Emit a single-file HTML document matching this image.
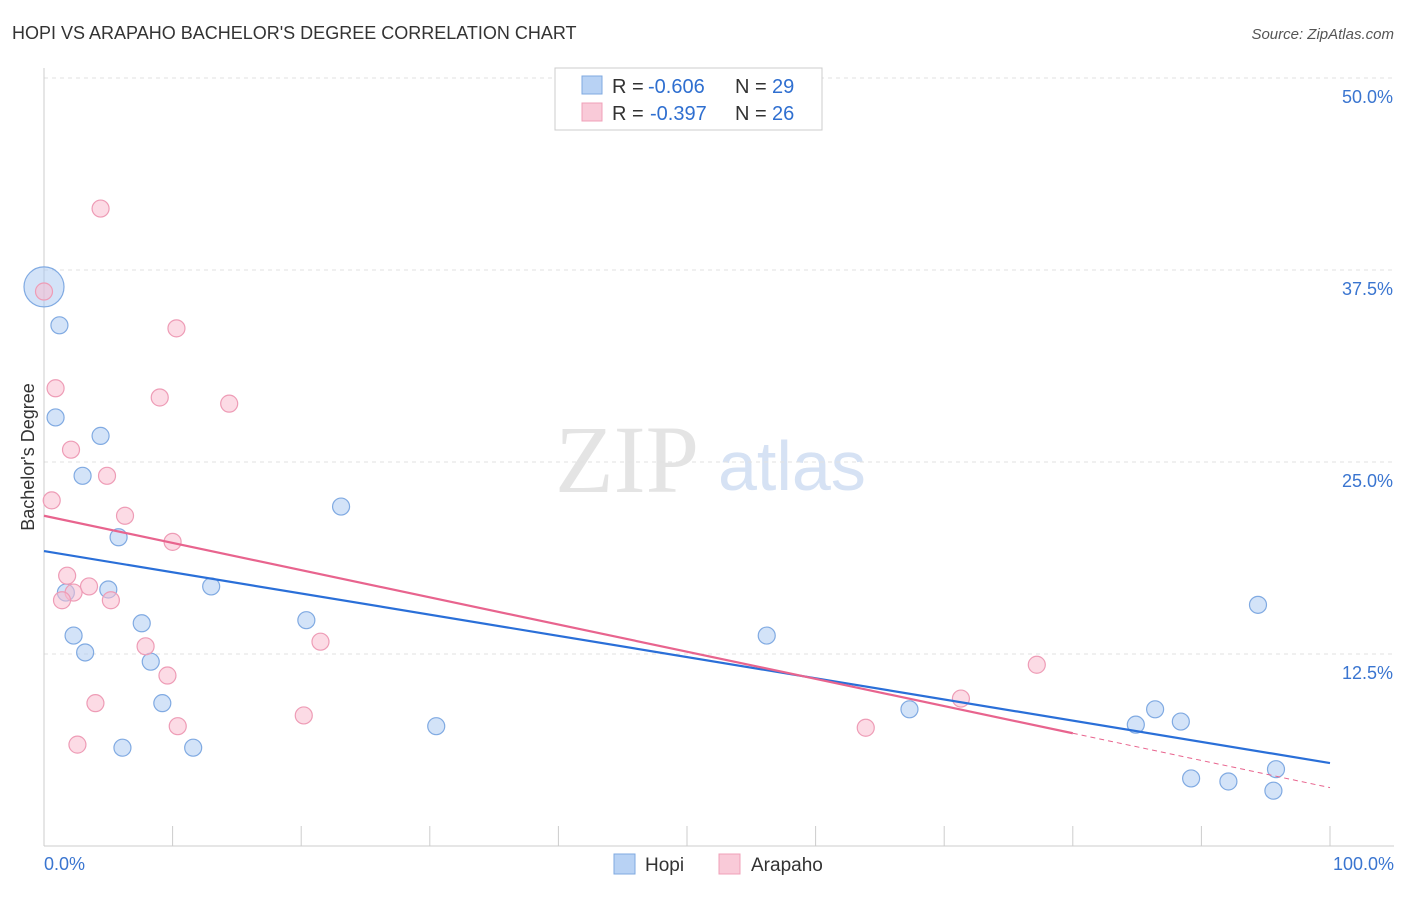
<!DOCTYPE html>
<html><head><meta charset="utf-8"><style>
body{margin:0;background:#fff;font-family:"Liberation Sans",sans-serif}
</style></head><body>
<svg id="c" width="1406" height="892" xmlns="http://www.w3.org/2000/svg">
<text x="12" y="39" font-size="18" fill="#333">HOPI VS ARAPAHO BACHELOR'S DEGREE CORRELATION CHART</text>
<text x="1394" y="39" font-size="15" fill="#555" font-style="italic" text-anchor="end">Source: ZipAtlas.com</text>
<text x="555" y="492" font-size="96" fill="#e4e4e4" font-family="Liberation Serif,serif">ZIP</text>
<text x="718" y="490" font-size="70" fill="#d6e2f4">atlas</text>
<text transform="translate(34,457) rotate(-90)" font-size="18" fill="#333" text-anchor="middle">Bachelor's Degree</text>
<g id="grid"></g><g id="marks"></g>
<g>
<rect x="555" y="68" width="267" height="62" fill="#fff" stroke="#ccc"/>
<rect x="582" y="76" width="20" height="18" fill="#b8d2f4" stroke="#7fa9e0"/>
<rect x="582" y="103" width="20" height="18" fill="#f9cad8" stroke="#f0a0b8"/>
<text x="612" y="93" font-size="20" fill="#333">R =</text>
<text x="648" y="93" font-size="20" fill="#2f6fd0">-0.606</text>
<text x="735" y="93" font-size="20" fill="#333">N =</text>
<text x="772" y="93" font-size="20" fill="#2f6fd0">29</text>
<text x="612" y="120" font-size="20" fill="#333">R =</text>
<text x="650" y="120" font-size="20" fill="#2f6fd0">-0.397</text>
<text x="735" y="120" font-size="20" fill="#333">N =</text>
<text x="772" y="120" font-size="20" fill="#2f6fd0">26</text>
</g>
<g>
<rect x="614" y="854" width="21" height="20" fill="#b8d2f4" stroke="#7fa9e0"/>
<text x="645" y="871" font-size="19" fill="#333">Hopi</text>
<rect x="719" y="854" width="21" height="20" fill="#f9cad8" stroke="#f0a0b8"/>
<text x="751" y="871" font-size="19" fill="#333">Arapaho</text>
</g>
</svg>
<script>
const hopiX=[0,1.2,0.9,4.4,3.0,5.8,5.0,1.7,13.0,2.3,7.6,3.2,8.3,9.2,6.1,11.6,23.1,20.4,30.5,56.2,67.3,94.4,84.9,86.4,88.4,89.2,92.1,95.8,95.6];
const hopiY=[36.4,33.9,27.9,26.7,24.1,20.1,16.7,16.5,16.9,13.7,14.5,12.6,12.0,9.3,6.4,6.4,22.1,14.7,7.8,13.7,8.9,15.7,7.9,8.9,8.1,4.4,4.2,5.0,3.6];
const araX=[4.4,0,10.3,0.9,9.0,14.4,2.1,4.9,0.6,6.3,10.0,1.8,3.5,2.3,1.4,5.2,7.9,21.5,9.6,4.0,10.4,2.6,20.2,63.9,71.3,77.2];
const araY=[41.5,36.1,33.7,29.8,29.2,28.8,25.8,24.1,22.5,21.5,19.8,17.6,16.9,16.5,16.0,16.0,13.0,13.3,11.1,9.3,7.8,6.6,8.5,7.7,9.6,11.8];
const hopiTrend=[19.2,5.4];
const araTrend=[21.5,3.8];
const yTicks=[12.5,25,37.5,50];
const xTickLabels=["0.0%","100.0%"];
const X=v=>44+v*12.86, Y=v=>846-v*15.36;
const NS="http://www.w3.org/2000/svg";
function mk(p,t,a){const e=document.createElementNS(NS,t);for(const k in a)e.setAttribute(k,a[k]);document.getElementById(p).appendChild(e);return e;}
yTicks.forEach(t=>{
 const l=mk('grid','line',{x1:44,x2:1394,y1:Y(t),y2:Y(t),stroke:'#e2e2e2','stroke-dasharray':'4,4'});
 
 
 const s=mk('grid','text',{x:1393,y:Y(t)+25,'font-size':18,fill:'#3a75d0','text-anchor':'end'});s.textContent=t.toFixed(1)+'%';
 
 
});
mk('grid','line',{x1:44,x2:44,y1:68,y2:846,stroke:'#ccc'});
mk('grid','line',{x1:44,x2:1394,y1:846,y2:846,stroke:'#ccc'});
for(let i=0;i<=10;i++){mk('grid','line',{x1:X(i*10),x2:X(i*10),y1:826,y2:846,stroke:'#ccc'});}
let t0=mk('grid','text',{x:44,y:870,'font-size':18,fill:'#3a75d0'});t0.textContent=xTickLabels[0];


let t1=mk('grid','text',{x:1394,y:870,'font-size':18,fill:'#3a75d0','text-anchor':'end'});t1.textContent=xTickLabels[1];


hopiX.forEach((x,i)=>{const c=mk('marks','circle',{cx:X(x),cy:Y(hopiY[i]),r:i==0?20:8.5,fill:'rgba(168,200,242,0.5)',stroke:'#80aae2','stroke-width':1.2});
 
 });
araX.forEach((x,i)=>{const c=mk('marks','circle',{cx:X(x),cy:Y(araY[i]),r:8.5,fill:'rgba(249,190,208,0.55)',stroke:'#ee9cb6','stroke-width':1.2});
 
 });
const hl=mk('marks','line',{x1:X(0),y1:Y(hopiTrend[0]),x2:X(100),y2:Y(hopiTrend[1]),stroke:'#2a6fd8','stroke-width':2.2});


const ay=v=>araTrend[0]+(araTrend[1]-araTrend[0])*v/100;
const al=mk('marks','line',{x1:X(0),y1:Y(ay(0)),x2:X(80),y2:Y(ay(80)),stroke:'#e8648e','stroke-width':2.2});


const ad=mk('marks','line',{x1:X(80),y1:Y(ay(80)),x2:X(100),y2:Y(ay(100)),stroke:'#e8648e','stroke-width':1,'stroke-dasharray':'5,4'});


</script>
</body></html>
